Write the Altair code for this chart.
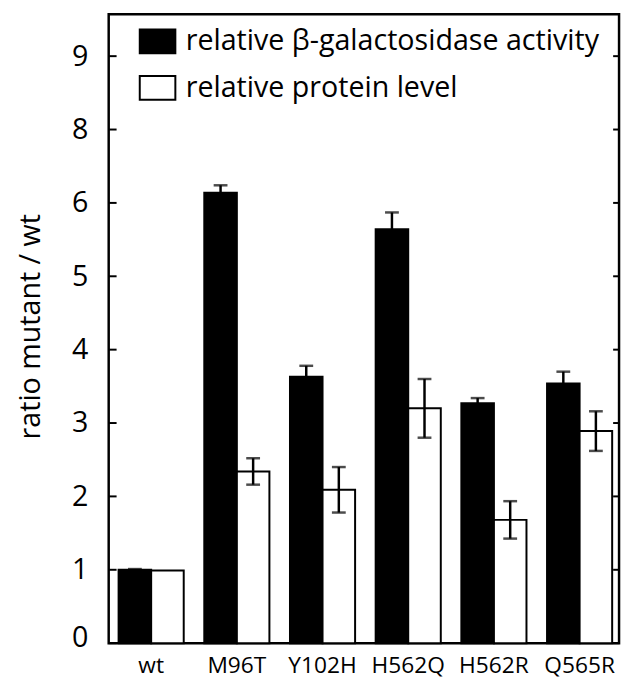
import altair as alt
import pandas as pd

mutants = ["wt", "M96T", "Y102H", "H562Q", "H562R", "Q565R"]
series = ["relative β-galactosidase activity", "relative protein level"]
activity = [1.00, 6.14, 3.63, 5.64, 3.27, 3.54]
activity_err = [0.01, 0.10, 0.15, 0.23, 0.07, 0.16]
protein = [0.99, 2.34, 2.09, 3.20, 1.68, 2.89]
protein_err = [0.0, 0.18, 0.31, 0.40, 0.255, 0.27]
tick_values = [0, 1, 2, 3, 4, 5, 6, 7, 8]
tick_labels = ["0", "1", "2", "3", "4", "5", "6", "8", "9"]

rows = []
for i, m in enumerate(mutants):
    for s, vals, errs in ((series[0], activity, activity_err), (series[1], protein, protein_err)):
        rows.append({"mutant": m, "series": s, "value": vals[i],
                     "lo": vals[i] - errs[i], "hi": vals[i] + errs[i], "err": errs[i]})
df = pd.DataFrame(rows)
err_df = df[df["err"] > 0]
ticks_df = pd.DataFrame({"t": tick_values})

FONT = "Open Sans"
W, H = 517, 637
YMAX = 8.57

label_expr = "[" + ",".join("'%s'" % l for l in tick_labels) + "][datum.value]"

x_enc = alt.X("mutant:N", sort=mutants,
              scale=alt.Scale(paddingInner=0.24, paddingOuter=0.098, align=0.59),
              axis=alt.Axis(title=None, labelAngle=0, labelFontSize=23, labelFont=FONT,
                            labelColor="black", ticks=False, domain=False, labelPadding=12))
xoff = alt.XOffset("series:N", sort=series, scale=alt.Scale(paddingInner=0, paddingOuter=0))
y_scale = alt.Scale(domain=[0, YMAX], nice=False, zero=True)
y_axis = alt.Axis(title="ratio mutant / wt", values=tick_values, labelExpr=label_expr,
                  grid=False, ticks=False, domain=False, labelFontSize=29, labelFont=FONT,
                  labelColor="black", labelPadding=21,
                  labelOffset={"condition": {"test": "datum.value == 0", "value": -6}, "value": 0},
                  titleFontSize=29, titleFont=FONT,
                  titleFontWeight="normal", titleColor="black", titleX=-79, titleY=316,
                  titleAngle=270, titleAlign="center", titleBaseline="middle")

bars = alt.Chart(df).mark_bar(stroke="black", strokeWidth=2).encode(
    x=x_enc,
    xOffset=xoff,
    y=alt.Y("value:Q", scale=y_scale, axis=y_axis),
    color=alt.Color("series:N", sort=series,
                    scale=alt.Scale(domain=series, range=["black", "white"]),
                    legend=alt.Legend(orient="none", legendX=30, legendY=8, title=None,
                                      labelFontSize=29, labelFont=FONT, labelColor="black",
                                      labelLimit=0,
                                      symbolType="M-1,-0.667H1V0.667H-1Z", symbolSize=1300,
                                      symbolStrokeColor="black", symbolStrokeWidth=2,
                                      symbolOpacity=1, rowPadding=11, labelOffset=9)),
)

err_rule = alt.Chart(err_df).mark_rule(color="black", strokeWidth=2.5).encode(
    x=alt.X("mutant:N", sort=mutants),
    xOffset=xoff,
    y=alt.Y("lo:Q", scale=y_scale),
    y2="hi:Q",
)
cap_hi = alt.Chart(err_df).mark_tick(color="black", thickness=2.5, size=14).encode(
    x=alt.X("mutant:N", sort=mutants),
    xOffset=xoff,
    y=alt.Y("hi:Q", scale=y_scale),
)
cap_lo = alt.Chart(err_df).mark_tick(color="black", thickness=2.5, size=14).encode(
    x=alt.X("mutant:N", sort=mutants),
    xOffset=xoff,
    y=alt.Y("lo:Q", scale=y_scale),
)
left_ticks = alt.Chart(ticks_df).mark_rule(color="black", strokeWidth=2).encode(
    y=alt.Y("t:Q", scale=y_scale), x=alt.value(0), x2=alt.value(8))
right_ticks = alt.Chart(ticks_df).mark_rule(color="black", strokeWidth=2).encode(
    y=alt.Y("t:Q", scale=y_scale), x=alt.value(W - 6), x2=alt.value(W))

chart = alt.layer(bars, err_rule, cap_hi, cap_lo, left_ticks, right_ticks).properties(
    width=W, height=H,
    autosize=alt.AutoSizeParams(type="none"),
    padding={"left": 102, "top": 2, "right": 4, "bottom": 40},
).configure_view(stroke="black", strokeWidth=2.5).configure_scale(bandPaddingInner=0)

chart.save("out.html", embed_options={"renderer": "svg", "actions": False})
